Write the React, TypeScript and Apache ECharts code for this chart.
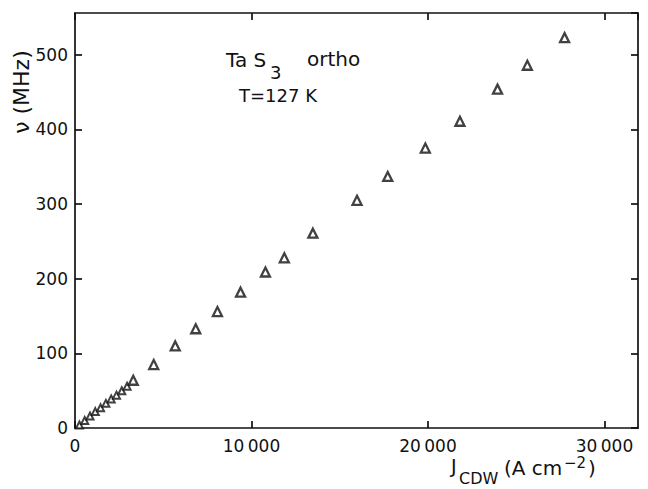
import React, { useEffect, useRef } from "react";
import * as echarts from "echarts";

const xTicks = [0, 10000, 20000, 30000];
const yTicks = [0, 100, 200, 300, 400, 500];
const xMax = 31900;
const yMax = 556;

// small markers (low current density region)
const jSmall = [250, 550, 850, 1150, 1450, 1750, 2050, 2350, 2650, 2950];
const vSmall = [4, 10, 16, 22, 27, 33, 39, 44, 50, 56];

// large markers
const jBig = [3300, 4460, 5680, 6840, 8070, 9380, 10790, 11860, 13480, 15980, 17720, 19850, 21810, 23940, 25630, 27740];
const vBig = [64, 85, 110, 133, 156, 182, 209, 228, 261, 305, 337, 375, 411, 454, 486, 523];

const FONT = "DejaVu Sans";
const INK = "#111111";

function fmt(v: number): string {
  if (v >= 10000) {
    const s = String(v);
    return s.slice(0, s.length - 3) + "\u2009" + s.slice(s.length - 3);
  }
  return String(v);
}

export default function App() {
  const ref = useRef<HTMLDivElement>(null);
  useEffect(() => {
    if (!ref.current) return;
    const chart = echarts.init(ref.current, undefined, { renderer: "svg" });
    const axisLine = { show: true, onZero: false, lineStyle: { color: INK, width: 1.7 } };
    const tick = { show: true, inside: true, length: 7, lineStyle: { color: INK, width: 1.7 } };
    chart.setOption({
      animation: false,
      backgroundColor: "#ffffff",
      grid: { left: 75, right: 10, top: 13, bottom: 61, containLabel: false },
      xAxis: [
        {
          type: "value",
          min: 0,
          max: xMax,
          interval: 10000,
          axisLine,
          axisTick: tick,
          splitLine: { show: false },
          axisLabel: {
            show: true,
            showMaxLabel: false,
            margin: 9,
            color: INK,
            fontFamily: FONT,
            fontSize: 17,
            formatter: (v: number) => (xTicks.includes(v) ? fmt(v) : ""),
          },
        },
        {
          type: "value",
          position: "top",
          min: 0,
          max: xMax,
          interval: 10000,
          axisLine,
          axisTick: tick,
          splitLine: { show: false },
          axisLabel: { show: false },
        },
      ],
      yAxis: [
        {
          type: "value",
          min: 0,
          max: yMax,
          interval: 100,
          axisLine,
          axisTick: tick,
          splitLine: { show: false },
          axisLabel: {
            show: true,
            showMaxLabel: false,
            margin: 7,
            color: INK,
            fontFamily: FONT,
            fontSize: 17,
            formatter: (v: number) => (yTicks.includes(v) ? String(v) : ""),
          },
        },
        {
          type: "value",
          position: "right",
          min: 0,
          max: yMax,
          interval: 100,
          axisLine,
          axisTick: tick,
          splitLine: { show: false },
          axisLabel: { show: false },
        },
      ],
      series: [
        {
          type: "scatter",
          xAxisIndex: 0,
          yAxisIndex: 0,
          symbol: "triangle",
          symbolSize: 7,
          data: jSmall.map((j, i) => [j, vSmall[i]]),
          itemStyle: { color: "#ffffff", borderColor: INK, borderWidth: 2 },
        },
        {
          type: "scatter",
          xAxisIndex: 0,
          yAxisIndex: 0,
          symbol: "triangle",
          symbolSize: 9,
          data: jBig.map((j, i) => [j, vBig[i]]),
          itemStyle: { color: "#ffffff", borderColor: INK, borderWidth: 2.3 },
        },
      ],
      graphic: [
        {
          type: "text",
          x: 21,
          y: 92,
          rotation: Math.PI / 2,
          style: {
            text: "ν (MHz)",
            fill: INK,
            font: `22px '${FONT}'`,
            align: "center",
            verticalAlign: "middle",
          },
        },
        { type: "text", x: 451, y: 466, style: { text: "J", fill: INK, font: `19px '${FONT}'`, verticalAlign: "middle" } },
        { type: "text", x: 459, y: 478, style: { text: "CDW", fill: INK, font: `16px '${FONT}'`, verticalAlign: "middle" } },
        { type: "text", x: 504, y: 468, style: { text: "(A cm", fill: INK, font: `20px '${FONT}'`, verticalAlign: "middle" } },
        { type: "text", x: 564, y: 463, style: { text: "−2", fill: INK, font: `15px '${FONT}'`, verticalAlign: "middle" } },
        { type: "text", x: 588, y: 468, style: { text: ")", fill: INK, font: `20px '${FONT}'`, verticalAlign: "middle" } },
        { type: "text", x: 226, y: 60, style: { text: "Ta S", fill: INK, font: `20px '${FONT}'`, verticalAlign: "middle" } },
        { type: "text", x: 270, y: 72, style: { text: "3", fill: INK, font: `18px '${FONT}'`, verticalAlign: "middle" } },
        { type: "text", x: 307, y: 59, style: { text: "ortho", fill: INK, font: `20px '${FONT}'`, verticalAlign: "middle" } },
        { type: "text", x: 239, y: 95, style: { text: "T=127 K", fill: INK, font: `18px '${FONT}'`, verticalAlign: "middle" } },
      ],
    });
    return () => chart.dispose();
  }, []);
  return <div ref={ref} style={{ position: "fixed", left: 0, top: 0, width: 648, height: 489 }} />;
}
